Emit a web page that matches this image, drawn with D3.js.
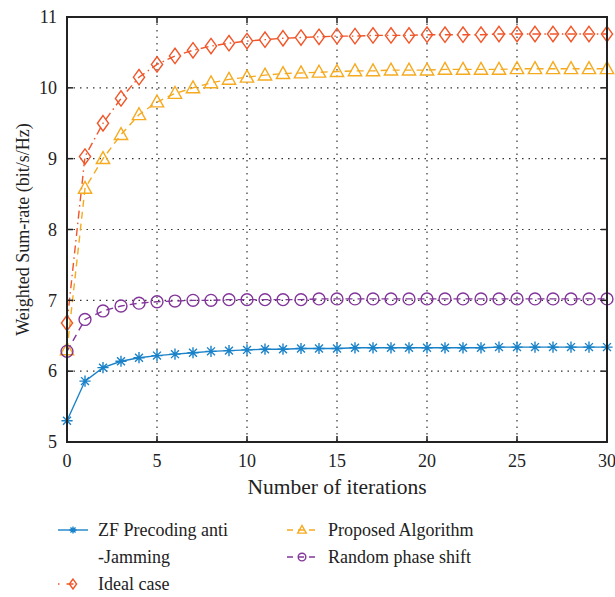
<!DOCTYPE html>
<html>
<head>
<meta charset="utf-8">
<script src="https://cdn.jsdelivr.net/npm/d3@7"></script>
<style>
  body { margin: 0; background: #fff; }
  svg text { font-family: "Liberation Serif", "DejaVu Serif", serif; fill: #222; }
</style>
</head>
<body>
<svg id="chart" width="615" height="597"></svg>
<script>
// iterations 0..30
var iterations = d3.range(0, 31);

// series values
var zfValues = [5.30, 5.86, 6.05, 6.14, 6.19, 6.22, 6.24, 6.26, 6.28, 6.29, 6.30,
  6.31, 6.31, 6.32, 6.32, 6.32, 6.33, 6.33, 6.33, 6.33, 6.33,
  6.33, 6.33, 6.33, 6.34, 6.34, 6.34, 6.34, 6.34, 6.34, 6.34];
var idealValues = [6.68, 9.03, 9.50, 9.85, 10.15, 10.33, 10.45, 10.53, 10.59, 10.63, 10.66,
  10.68, 10.70, 10.71, 10.72, 10.73, 10.73, 10.74, 10.74, 10.74, 10.75,
  10.75, 10.75, 10.75, 10.76, 10.76, 10.76, 10.76, 10.76, 10.76, 10.76];
var proposedValues = [6.30, 8.58, 9.00, 9.34, 9.62, 9.80, 9.92, 10.00, 10.07, 10.12, 10.15,
  10.18, 10.20, 10.21, 10.22, 10.23, 10.24, 10.24, 10.25, 10.25, 10.25,
  10.26, 10.26, 10.26, 10.26, 10.27, 10.27, 10.27, 10.27, 10.27, 10.27];
var randomValues = [6.28, 6.73, 6.85, 6.92, 6.96, 6.98, 6.99, 7.00, 7.00, 7.01, 7.01,
  7.01, 7.01, 7.01, 7.02, 7.02, 7.02, 7.02, 7.02, 7.02, 7.02,
  7.02, 7.02, 7.02, 7.02, 7.02, 7.02, 7.02, 7.02, 7.02, 7.02];

var xTicks = [0, 5, 10, 15, 20, 25, 30];
var yTicks = [5, 6, 7, 8, 9, 10, 11];

var seriesNames = ["ZF Precoding anti-Jamming", "Ideal case", "Proposed Algorithm", "Random phase shift"];

var series = [
  { name: seriesNames[0], values: zfValues, color: "#1a82c8", dash: null, marker: "star" },
  { name: seriesNames[1], values: idealValues, color: "#f0562a", dash: "8,4,1.5,4", marker: "diamond" },
  { name: seriesNames[2], values: proposedValues, color: "#f5aa1f", dash: "7,5", marker: "triangle" },
  { name: seriesNames[3], values: randomValues, color: "#83369a", dash: "7,5", marker: "circle" }
];

var svg = d3.select("#chart");
var margin = { left: 67, top: 17, right: 8, bottom: 155 };
var width = 615 - margin.left - margin.right,
    height = 597 - margin.top - margin.bottom;

var x = d3.scaleLinear().domain([0, 30]).range([0, width]);
var y = d3.scaleLinear().domain([5, 11]).range([height, 0]);

var g = svg.append("g").attr("transform", "translate(" + margin.left + "," + margin.top + ")");

// dotted grid
g.append("g").selectAll("line.vg").data(xTicks.slice(1, -1)).join("line")
  .attr("x1", d => x(d)).attr("x2", d => x(d))
  .attr("y1", 0).attr("y2", height)
  .attr("stroke", "#333").attr("stroke-width", 1.2).attr("stroke-dasharray", "1.5,5");
g.append("g").selectAll("line.hg").data(yTicks.slice(1, -1)).join("line")
  .attr("x1", 0).attr("x2", width)
  .attr("y1", d => y(d)).attr("y2", d => y(d))
  .attr("stroke", "#333").attr("stroke-width", 1.2).attr("stroke-dasharray", "1.5,5");

// lines
var line = d3.line().x((d, i) => x(iterations[i])).y(d => y(d));
series.forEach(function(s) {
  g.append("path")
    .attr("d", line(s.values))
    .attr("fill", "none")
    .attr("stroke", s.color)
    .attr("stroke-width", 1.4)
    .attr("stroke-dasharray", s.dash);
});

// markers
function drawMarker(sel, type, color, size) {
  var r = size;
  if (type === "diamond") {
    sel.append("path").attr("d", "M0," + (-r * 1.1) + "L" + r * 0.8 + ",0L0," + r * 1.1 + "L" + (-r * 0.8) + ",0Z")
      .attr("fill", "none").attr("stroke", color).attr("stroke-width", 1.4);
  } else if (type === "triangle") {
    sel.append("path").attr("d", "M0," + (-r) + "L" + r * 0.95 + "," + r * 0.7 + "L" + (-r * 0.95) + "," + r * 0.7 + "Z")
      .attr("fill", "none").attr("stroke", color).attr("stroke-width", 1.4);
  } else if (type === "circle") {
    sel.append("circle").attr("r", r * 0.85)
      .attr("fill", "none").attr("stroke", color).attr("stroke-width", 1.4);
  } else if (type === "star") {
    var rr = r * 0.8;
    var p = "";
    [0, 45, 90, 135].forEach(function(a) {
      var t = a * Math.PI / 180;
      p += "M" + (-rr * Math.cos(t)) + "," + (-rr * Math.sin(t)) + "L" + (rr * Math.cos(t)) + "," + (rr * Math.sin(t));
    });
    sel.append("path").attr("d", p).attr("stroke", color).attr("stroke-width", 1.4);
  }
}

series.forEach(function(s) {
  s.values.forEach(function(v, i) {
    var m = g.append("g").attr("transform", "translate(" + x(iterations[i]) + "," + y(v) + ")");
    drawMarker(m, s.marker, s.color, 7);
  });
});

// axes box with inward ticks
var axisColor = "#222";
g.append("rect").attr("width", width).attr("height", height)
  .attr("fill", "none").attr("stroke", axisColor).attr("stroke-width", 2);

var tickLen = 6;
xTicks.forEach(function(t) {
  g.append("line").attr("x1", x(t)).attr("x2", x(t)).attr("y1", height).attr("y2", height - tickLen)
    .attr("stroke", axisColor).attr("stroke-width", 1.5);
  g.append("line").attr("x1", x(t)).attr("x2", x(t)).attr("y1", 0).attr("y2", tickLen)
    .attr("stroke", axisColor).attr("stroke-width", 1.5);
  g.append("text").attr("x", x(t)).attr("y", height + 25)
    .attr("text-anchor", "middle").attr("font-size", 18).text(t);
});
yTicks.forEach(function(t) {
  g.append("line").attr("x1", 0).attr("x2", tickLen).attr("y1", y(t)).attr("y2", y(t))
    .attr("stroke", axisColor).attr("stroke-width", 1.5);
  g.append("line").attr("x1", width).attr("x2", width - tickLen).attr("y1", y(t)).attr("y2", y(t))
    .attr("stroke", axisColor).attr("stroke-width", 1.5);
  g.append("text").attr("x", -10).attr("y", y(t)).attr("dy", "0.35em")
    .attr("text-anchor", "end").attr("font-size", 18).text(t);
});

// axis titles
svg.append("text").attr("x", margin.left + width / 2).attr("y", 494)
  .attr("text-anchor", "middle").attr("font-size", 21.5).text("Number of iterations");
svg.append("text")
  .attr("transform", "translate(29," + (margin.top + height / 2) + ") rotate(-90)")
  .attr("text-anchor", "middle").attr("font-size", 18).text("Weighted Sum-rate (bit/s/Hz)");

// legend
var legendItems = [
  { s: series[0], x: 58, y: 530, lines: ["ZF Precoding anti", "-Jamming"] },
  { s: series[1], x: 58, y: 584, lines: ["Ideal case"] },
  { s: series[2], x: 287, y: 530, lines: ["Proposed Algorithm"] },
  { s: series[3], x: 287, y: 557, lines: ["Random phase shift"] }
];
legendItems.forEach(function(it) {
  var lg = svg.append("g").attr("transform", "translate(" + it.x + "," + it.y + ")");
  lg.append("line").attr("x1", 0).attr("x2", 30).attr("y1", 0).attr("y2", 0)
    .attr("stroke", it.s.color).attr("stroke-width", 1.4)
    .attr("stroke-dasharray", it.s.dash ? (it.s.marker === "diamond" ? "1.5,7,7,30" : "6,5") : null);
  var m = lg.append("g").attr("transform", "translate(15,0)");
  drawMarker(m, it.s.marker, it.s.color, 4.5);
  it.lines.forEach(function(t, k) {
    lg.append("text").attr("x", it.s === series[0] || it.s === series[1] ? 40 : 41)
      .attr("y", k * 27).attr("dy", "0.35em").attr("font-size", 18).text(t);
  });
});
</script>
</body>
</html>
